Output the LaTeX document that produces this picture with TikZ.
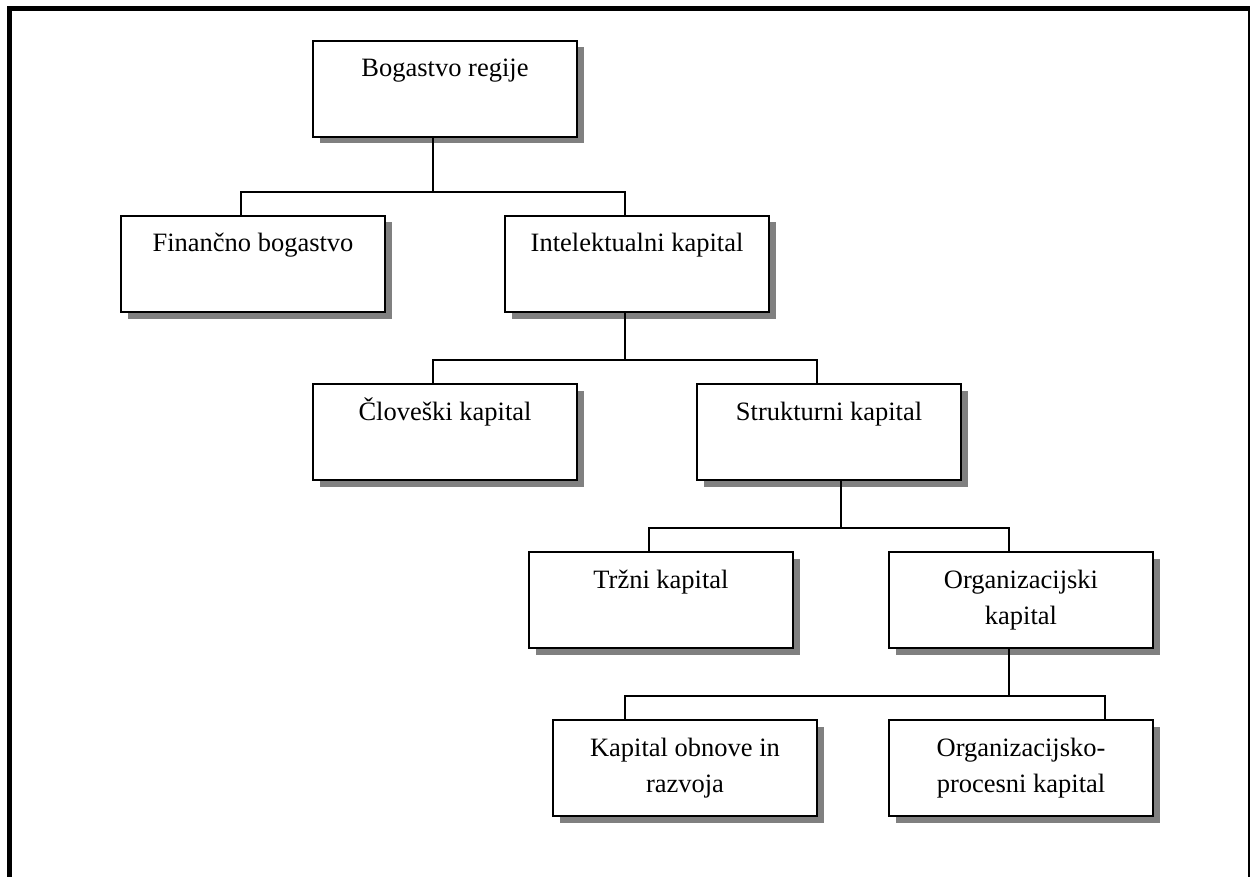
\documentclass[tikz,border=0pt]{standalone}
\usepackage{fontspec}
\setmainfont{Liberation Serif}
\usetikzlibrary{shadows}
\definecolor{shade}{HTML}{808080}
\begin{document}
\begin{tikzpicture}[x=1pt,y=1pt,
  box/.style={draw=black, line width=1.6pt, fill=white, minimum width=264pt, minimum height=96pt,
    inner sep=0pt, outer sep=0pt, anchor=north west,
    drop shadow={shadow xshift=6.5pt, shadow yshift=-6.5pt, fill=shade, opacity=1}},
  lbl/.style={anchor=base, inner sep=0pt, font=\fontsize{26.5}{36}\selectfont},
  conn/.style={line width=1.4pt}]
\useasboundingbox (0,0) rectangle (1250,-877);
\fill[white] (0,0) rectangle (1250,-877);
% outer frame
\draw[line width=5pt] (9,-877) -- (9,-8.5) -- (1250,-8.5);
\draw[line width=2pt] (1248.7,-8) -- (1248.7,-877);

% boxes
\node[box] (b0)  at (313,-41)  {};
\node[box] (fin) at (121,-216) {};
\node[box] (int) at (505,-216) {};
\node[box] (clo) at (313,-384) {};
\node[box] (str) at (697,-384) {};
\node[box] (trz) at (529,-552) {};
\node[box] (org) at (889,-552) {};
\node[box] (kap) at (553,-720) {};
\node[box] (pro) at (889,-720) {};

% labels
\node[lbl] (b0t)  at ([yshift=-36pt]b0.north)  {Bogastvo regije};
\node[lbl] (fint) at ([yshift=-36pt]fin.north) {Finančno bogastvo};
\node[lbl] (intt) at ([yshift=-36pt]int.north) {Intelektualni kapital};
\node[lbl] (clot) at ([yshift=-36pt]clo.north) {Človeški kapital};
\node[lbl] (strt) at ([yshift=-36pt]str.north) {Strukturni kapital};
\node[lbl] (trzt) at ([yshift=-36pt]trz.north) {Tržni kapital};
\node[lbl] (orgt) at ([yshift=-36pt]org.north) {\begin{tabular}[t]{@{}c@{}}Organizacijski\\kapital\end{tabular}};
\node[lbl] (kapt) at ([yshift=-36pt]kap.north) {\begin{tabular}[t]{@{}c@{}}Kapital obnove in\\razvoja\end{tabular}};
\node[lbl] (prot) at ([yshift=-36pt]pro.north) {\begin{tabular}[t]{@{}c@{}}Organizacijsko-\\procesni kapital\end{tabular}};

% connectors
\draw[conn] ([xshift=-12pt]b0.south) -- ++(0,-55) coordinate (j1);
\draw[conn] ([xshift=-12pt]fin.north) |- (j1) -| ([xshift=-12pt]int.north);

\draw[conn] ([xshift=-12pt]int.south) -- ++(0,-48) coordinate (j2);
\draw[conn] ([xshift=-12pt]clo.north) |- (j2) -| ([xshift=-12pt]str.north);

\draw[conn] ([xshift=12pt]str.south) -- ++(0,-48) coordinate (j3);
\draw[conn] ([xshift=-12pt]trz.north) |- (j3) -| ([xshift=-12pt]org.north);

\draw[conn] ([xshift=-12pt]org.south) -- ++(0,-48) coordinate (j4);
\draw[conn] ([xshift=-60pt]kap.north) |- (j4) -| ([xshift=84pt]pro.north);
\end{tikzpicture}
\end{document}
